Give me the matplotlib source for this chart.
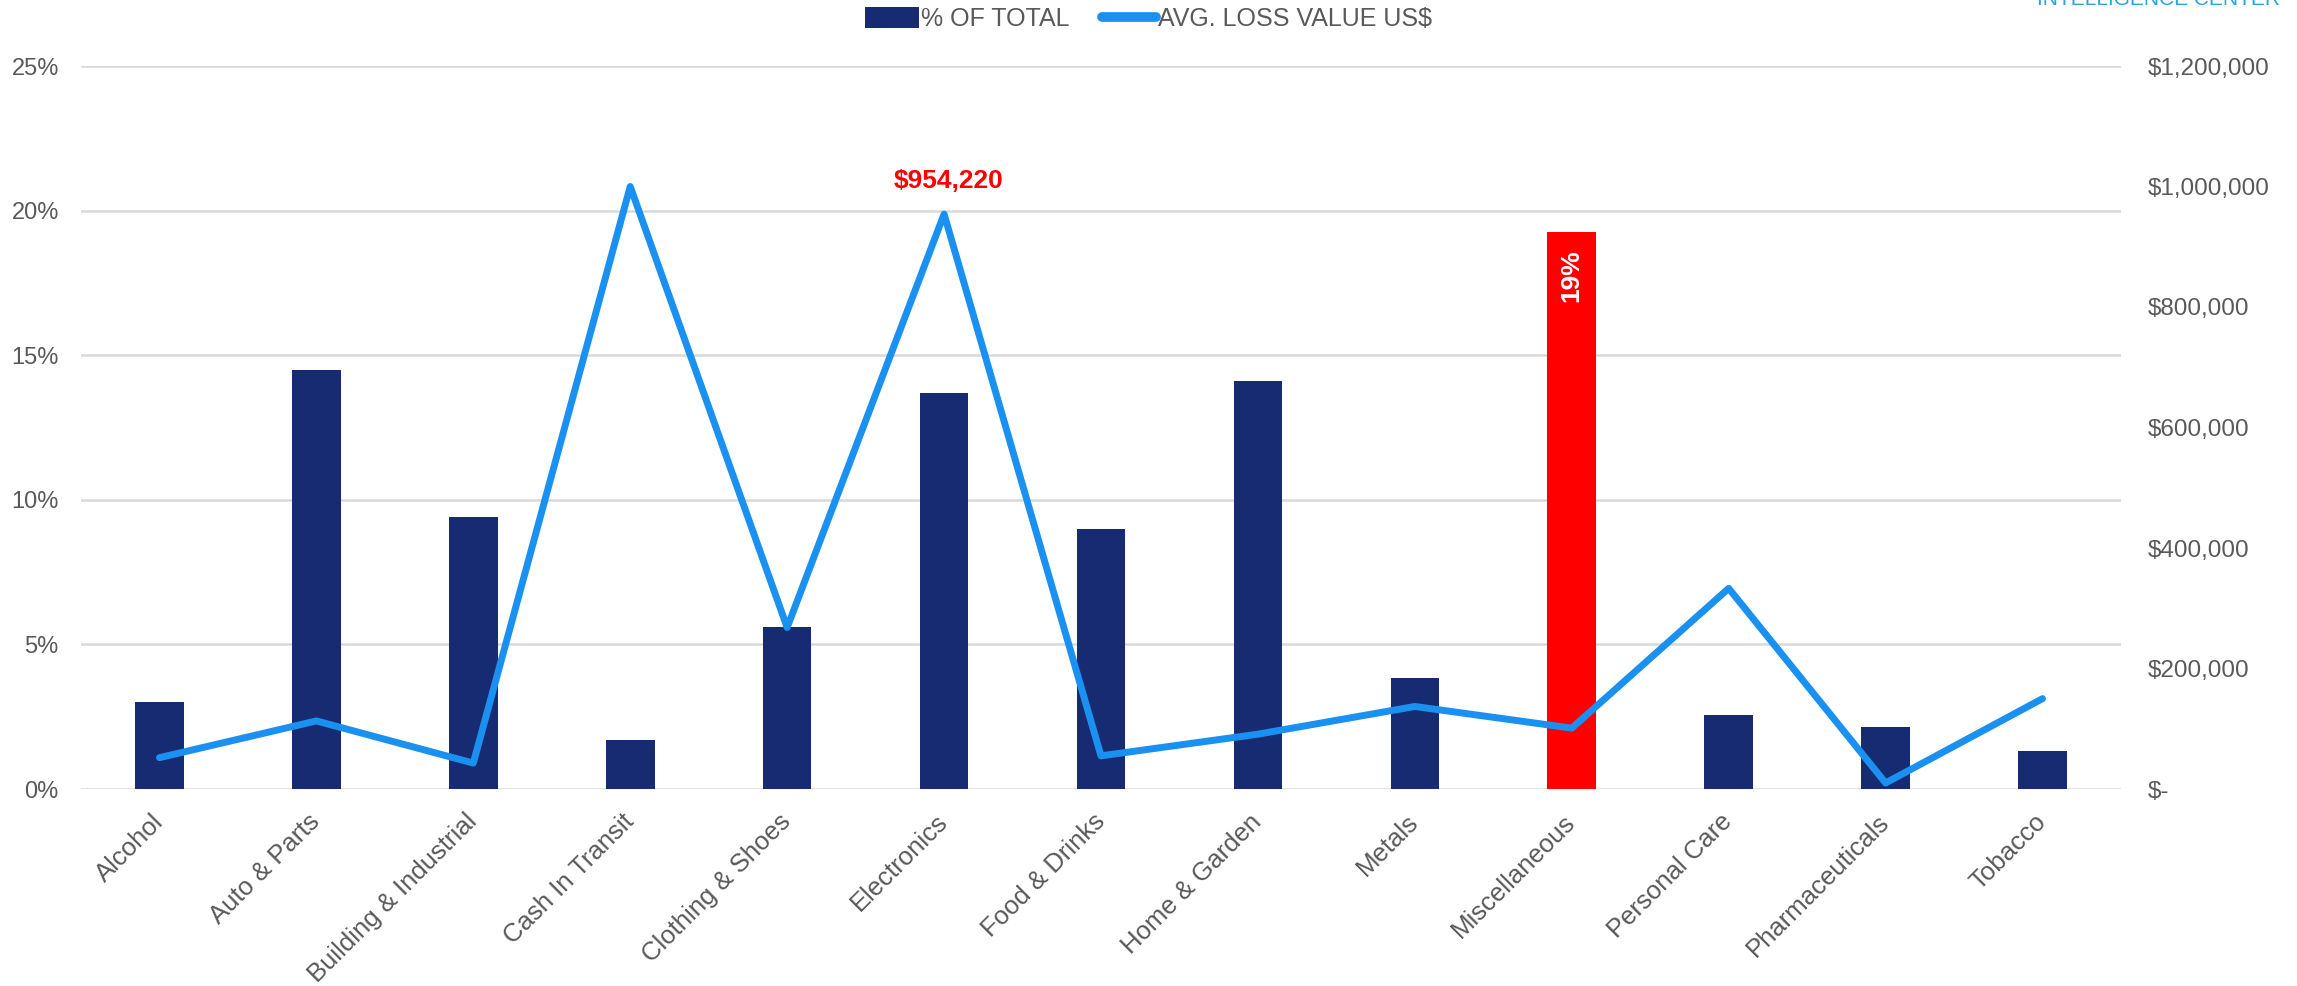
import matplotlib
matplotlib.use("Agg")
import matplotlib.pyplot as plt
from matplotlib.patches import Patch
from matplotlib.lines import Line2D
from matplotlib.ticker import FuncFormatter

categories = ["Alcohol", "Auto & Parts", "Building & Industrial", "Cash In Transit",
              "Clothing & Shoes", "Electronics", "Food & Drinks", "Home & Garden",
              "Metals", "Miscellaneous", "Personal Care", "Pharmaceuticals", "Tobacco"]
pct_total = [3.0, 14.5, 9.4, 1.7, 5.6, 13.7, 9.0, 14.1, 3.85, 19.25, 2.55, 2.15, 1.3]
avg_loss = [52000, 113000, 43000, 1000000, 268000, 954220, 55000, 91000, 137000,
            101000, 333000, 10000, 150000]
pct_ticks = [0, 5, 10, 15, 20, 25]
usd_ticks = [0, 200000, 400000, 600000, 800000, 1000000, 1200000]
highlight_bar = "Miscellaneous"
highlight_point = "Electronics"

NAVY = "#162B71"
RED = "#FF0000"
BLUE = "#1A91F0"
GRID = "#D9D9D9"
TXT = "#595959"

plt.rcParams['font.family'] = ['Liberation Sans', 'DejaVu Sans']

fig = plt.figure(figsize=(22.97, 9.86), dpi=100)
ax = fig.add_axes([81/2297, 197/986, 2040/2297, 723/986])
ax2 = ax.twinx()

x = list(range(len(categories)))
colors = [RED if c == highlight_bar else NAVY for c in categories]
ax.bar(x, pct_total, width=0.31, color=colors, zorder=2)
ax.set_xlim(-0.5, len(categories) - 0.5)
ax.set_ylim(0, 25)
ax.set_yticks(pct_ticks)
ax.set_yticklabels([f"{t}%" for t in pct_ticks])
ax.yaxis.grid(True, color=GRID, lw=1.8, zorder=0)
ax.set_axisbelow(True)
for s in ax.spines.values():
    s.set_visible(False)
for s in ax2.spines.values():
    s.set_visible(False)
ax.tick_params(axis='y', length=0, pad=16, labelsize=17, labelcolor=TXT)
ax.set_xticks(x)
ax.set_xticklabels(categories, rotation=45, ha='right', va='center', rotation_mode='anchor')
ax.tick_params(axis='x', length=0, pad=21, labelsize=18.5, labelcolor=TXT)

ax2.plot(x, avg_loss, color=BLUE, lw=5, solid_joinstyle='round', solid_capstyle='round', zorder=3)
ax2.set_ylim(0, 1200000)
ax2.set_yticks(usd_ticks)
ax2.yaxis.set_major_formatter(FuncFormatter(lambda v, p: "$-" if v == 0 else f"${v:,.0f}"))
ax2.tick_params(axis='y', length=0, pad=19, labelsize=17.5, labelcolor=TXT)

# annotations
ih = categories.index(highlight_point)
ax2.annotate(f"${avg_loss[ih]:,.0f}", xy=(ih, avg_loss[ih]), xytext=(3, 24),
             textcoords='offset points', ha='center', va='center',
             color=RED, fontsize=19, fontweight='bold')
ib = categories.index(highlight_bar)
ax.annotate(f"{round(pct_total[ib])}%", xy=(ib, pct_total[ib]), xytext=(0, -31),
            textcoords='offset points', ha='center', va='center', rotation=90,
            color='white', fontsize=19, fontweight='bold')

handles = [Patch(facecolor=NAVY, edgecolor='none', label='% OF TOTAL'),
           Line2D([0], [0], color=BLUE, lw=7, solid_capstyle='round', label='AVG. LOSS VALUE US$')]
fig.legend(handles=handles, loc='center', bbox_to_anchor=(0.5, 1 - 19/986), ncol=2,
           frameon=False, fontsize=18, labelcolor=TXT, handlelength=2.15, handleheight=0.9,
           handletextpad=0.1, columnspacing=1.3)

fig.text(2280/2297, 1 - 5/986, "INTELLIGENCE CENTER", ha='right', va='baseline',
         color="#29A3DD", fontsize=15)

fig.savefig("out.png", dpi=100)
